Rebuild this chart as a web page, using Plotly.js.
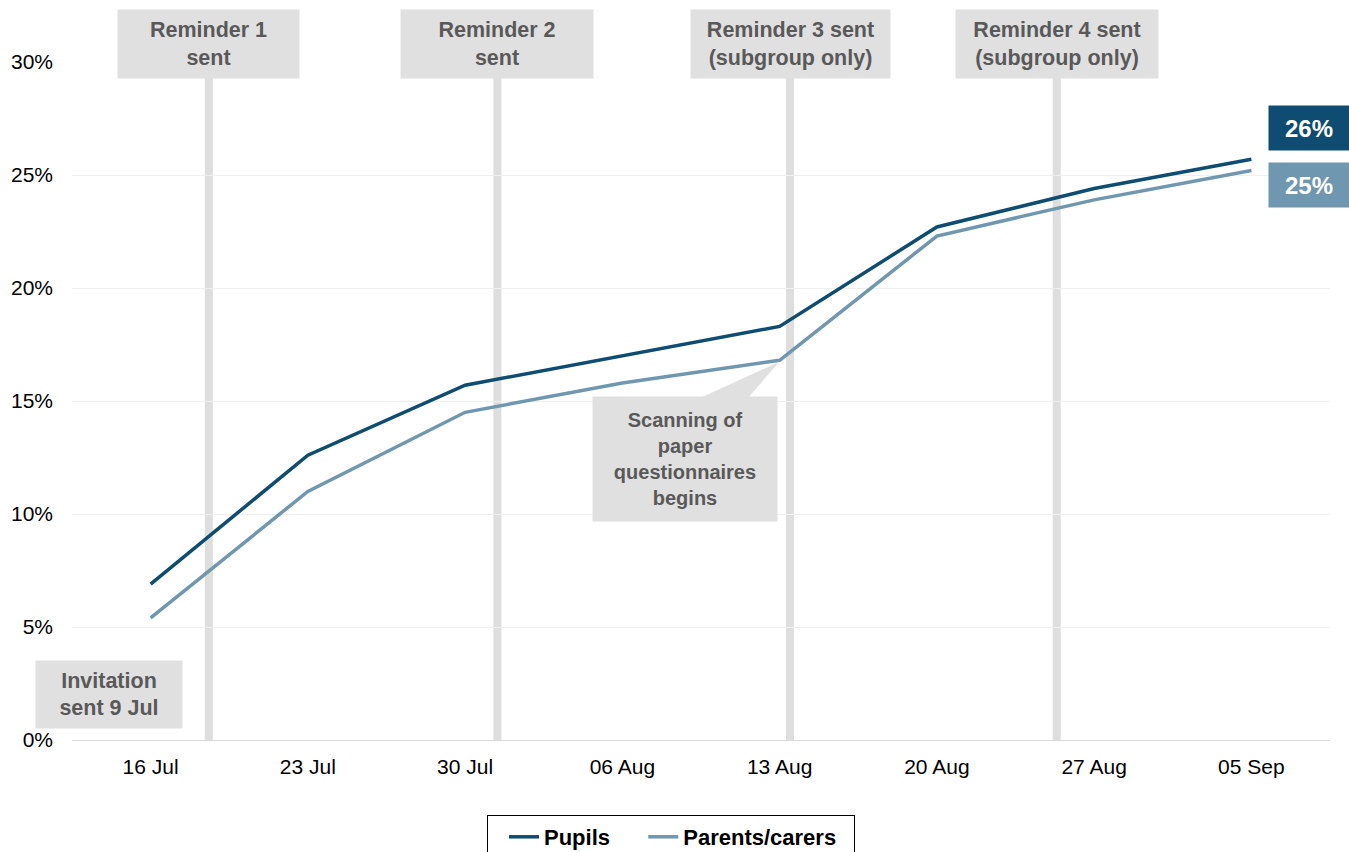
<!DOCTYPE html>
<html>
<head>
<meta charset="utf-8">
<script src="https://cdn.plot.ly/plotly-3.0.1.min.js"></script>
<style>html,body{margin:0;padding:0;background:#fff;}#chart{width:1349px;height:852px;}</style>
</head>
<body>
<div id="chart"></div>
<script>
const weeks = ["16 Jul","23 Jul","30 Jul","06 Aug","13 Aug","20 Aug","27 Aug","05 Sep"];
const pupils = [6.9, 12.6, 15.7, 17.0, 18.3, 22.7, 24.4, 25.7];
const parents = [5.4, 11.0, 14.5, 15.8, 16.8, 22.3, 23.9, 25.2];
const reminderLabels = ["Reminder 1<br>sent","Reminder 2<br>sent","Reminder 3 sent<br>(subgroup only)","Reminder 4 sent<br>(subgroup only)"];
const reminderPos = [0.37, 2.205, 4.066, 5.762];
const yTicks = [0,5,10,15,20,25,30];
const yTickText = yTicks.map(v => v + "%");

const cPupils = "#0f4c71";
const cParents = "#7097b0";
const boxFill = "#e0e0e0";
const boxText = "#595959";
const FONT = "Liberation Sans, Arial, sans-serif";

const traces = [
  {x: weeks, y: pupils, name: "Pupils\u00a0\u00a0", type: "scatter", mode: "lines",
   line: {color: cPupils, width: 3.5}, hoverinfo: "skip"},
  {x: weeks, y: parents, name: "Parents/carers\u00a0\u00a0", type: "scatter", mode: "lines",
   line: {color: cParents, width: 3.5}, hoverinfo: "skip"}
];

const boxW = [181, 192, 199, 202];
const shapes = reminderPos.map(p => ({
  type: "line", xref: "x", yref: "paper", x0: p, x1: p, y0: 0, y1: 1,
  line: {color: "#dedede", width: 8}, layer: "below"
}));
// pointer for the scanning note (paper coords)
const px = v => (v - 72) / 1258, py = v => (740 - v) / 678;
shapes.push({type: "path", xref: "paper", yref: "paper",
  path: `M ${px(700)},${py(398)} L ${px(748)},${py(398)} L ${px(779)},${py(362)} Z`,
  fillcolor: boxFill, line: {width: 0}, layer: "above"});

const annotations = reminderLabels.map((t, i) => ({
  text: "<b>" + t + "</b>", xref: "x", yref: "paper", x: reminderPos[i], y: py(44),
  xanchor: "center", yanchor: "middle", showarrow: false,
  width: boxW[i], height: 68, bgcolor: boxFill, borderpad: 0,
  font: {family: FONT, size: 21.5, color: boxText}
}));
annotations.push({text: "<b>Invitation<br>sent 9 Jul</b>", xref: "paper", yref: "paper",
  x: px(109), y: py(694.5), xanchor: "center", yanchor: "middle", showarrow: false,
  width: 146, height: 67, bgcolor: boxFill, borderpad: 0,
  font: {family: FONT, size: 21.5, color: boxText}});
annotations.push({text: "<b>Scanning of<br>paper<br>questionnaires<br>begins</b>", xref: "paper", yref: "paper",
  x: px(685), y: py(459), xanchor: "center", yanchor: "middle", showarrow: false,
  width: 184, height: 124, bgcolor: boxFill, borderpad: 0,
  font: {family: FONT, size: 20, color: boxText}});
annotations.push({text: "<b>" + Math.round(pupils[pupils.length-1]) + "%</b>", xref: "paper", yref: "y",
  x: px(1309), y: pupils[pupils.length-1], yshift: 31, xanchor: "center", yanchor: "middle", showarrow: false,
  width: 80, height: 44, bgcolor: cPupils, borderpad: 0,
  font: {family: FONT, size: 24, color: "#ffffff"}});
annotations.push({text: "<b>" + Math.round(parents[parents.length-1]) + "%</b>", xref: "paper", yref: "y",
  x: px(1309), y: parents[parents.length-1], yshift: -15, xanchor: "center", yanchor: "middle", showarrow: false,
  width: 80, height: 44, bgcolor: cParents, borderpad: 0,
  font: {family: FONT, size: 24, color: "#ffffff"}});

const layout = {
  width: 1349, height: 852,
  margin: {l: 72, r: 19, t: 62, b: 112, autoexpand: false},
  paper_bgcolor: "#ffffff", plot_bgcolor: "#ffffff",
  font: {family: FONT, color: "#000000"},
  showlegend: true,
  legend: {orientation: "h", x: px(487), y: py(815), xanchor: "left", yanchor: "top",
    bordercolor: "#000000", borderwidth: 1, bgcolor: "#ffffff", indentation: 16,
    font: {family: FONT, size: 22, color: "#000000", weight: "bold"}, itemwidth: 30},
  xaxis: {type: "category", range: [-0.5, 7.5], showgrid: false, zeroline: false,
    showline: true, linecolor: "#d9d9d9", linewidth: 1, ticks: "",
    tickfont: {family: FONT, size: 21, color: "#000000"}, ticklabelstandoff: 8, fixedrange: true},
  yaxis: {range: [0, 30], tickmode: "array", tickvals: yTicks, ticktext: yTickText, showgrid: true, gridcolor: "#efefef",
    gridwidth: 1, zeroline: false, showline: false, ticks: "",
    tickfont: {family: FONT, size: 21, color: "#000000"}, ticklabelstandoff: 18, fixedrange: true},
  shapes: shapes,
  annotations: annotations
};

Plotly.newPlot("chart", traces, layout, {displayModeBar: false, staticPlot: true});
</script>
</body>
</html>
